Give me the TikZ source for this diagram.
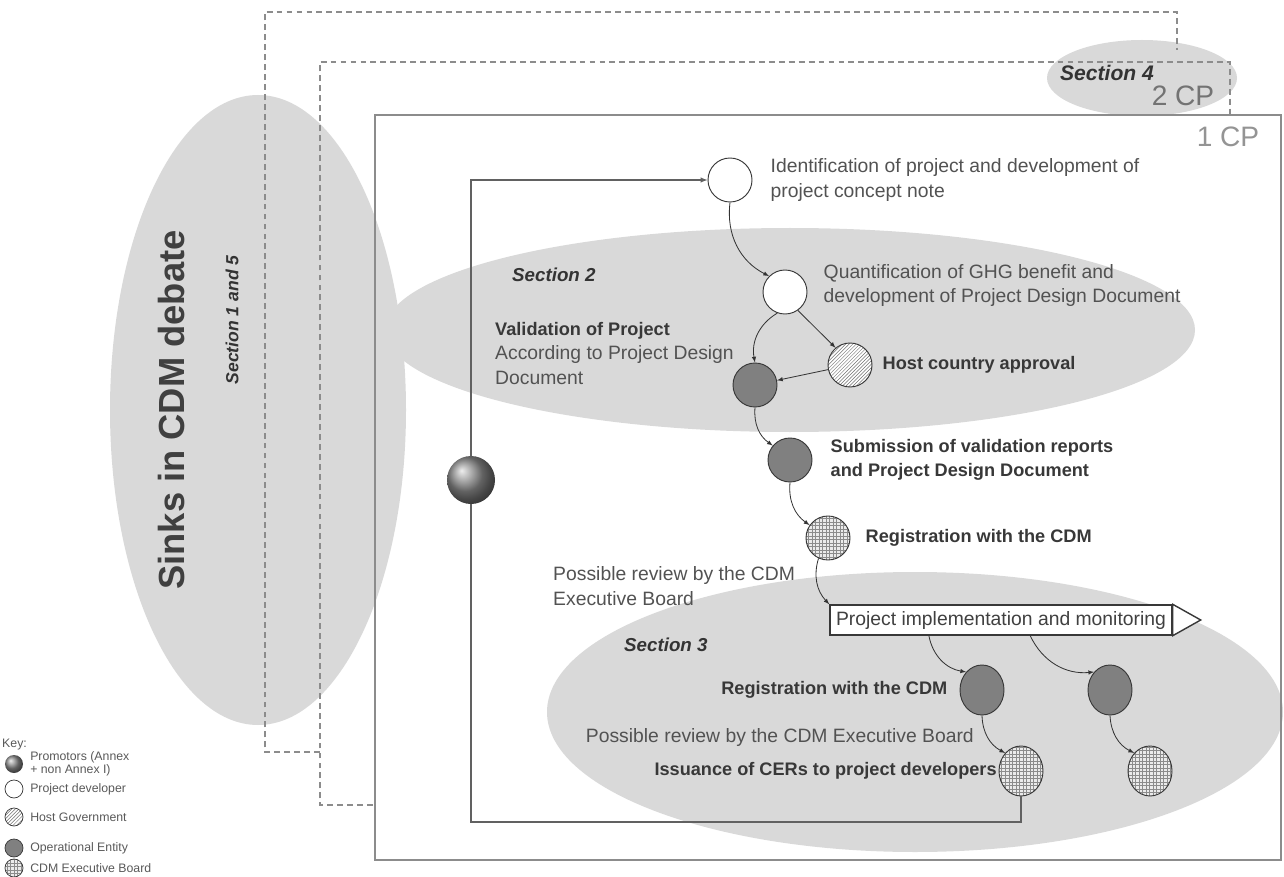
\documentclass[tikz,border=0pt]{standalone}
\usepackage{fontspec}
\setmainfont{Liberation Sans}
\usetikzlibrary{patterns,shapes.geometric,positioning,calc}

\begin{document}
\begin{tikzpicture}[x=0.03cm, y=-0.03cm, node distance=0.4cm]
        \def\colorsec{black!15}
        \def\colorop{black!50}
        \def\colorline{black!78}
        \def\colortext{black!68}
        \tikzset{projdev/.style={circle, draw=\colorline, line width=0.8, fill=white, minimum size=1.32cm}}
        \tikzset{hostgov/.style={circle, draw=\colorline, line width=0.8,
                preaction={fill=white}, pattern=north east lines, pattern color=black!55,
                minimum size=1.32cm}}
        \tikzset{opentity/.style={circle, draw=\colorline, line width=0.8, fill=\colorop, minimum size=1.32cm}}
        \tikzset{cdmboard/.style={circle, draw=\colorline, line width=0.8,
                preaction={fill=black!8}, pattern=grid, pattern color=black!45,
                minimum size=1.32cm}}
        \tikzset{promoter/.style={circle, shading=ball, ball color=black!45, minimum size=1.44cm}}
        \tikzset{tall/.style={ellipse, minimum width=1.32cm, minimum height=1.5cm}}
        \tikzset{keymark/.style={minimum size=0.54cm, line width=0.6}}
        \tikzset{plaintext/.style={inner sep=0pt, align=left, text=\colortext,
                font=\fontsize{16.5}{21}\selectfont}}
        \tikzset{boldtext/.style={plaintext, text=black!78, font=\fontsize{15.5}{21}\selectfont\bfseries}}
        \tikzset{sectiontitle/.style={inner sep=0pt, text=black!80, font=\fontsize{16}{19}\selectfont\bfseries\itshape}}
        \tikzset{cptext/.style={inner sep=0pt, text=black!42, font=\fontsize{24}{26}\selectfont}}
        \tikzset{keytext/.style={inner sep=0pt, anchor=west, align=left, text=black!65,
                font=\fontsize{10.5}{11.5}\selectfont}}
        \tikzset{implbox/.style={draw=\colorline, line width=1.2, fill=white, inner sep=0pt,
                minimum width=10.26cm, minimum height=0.9cm, text=black!75,
                font=\fontsize{16.5}{20}\selectfont}}
        \tikzset{dashedbox/.style={draw=black!45, line width=0.9, dash pattern=on 5pt off 3.5pt}}
        \tikzset{cpbox/.style={draw=black!45, line width=1.3}}
        \tikzset{loopline/.style={draw=black!62, line width=1}}
        \tikzset{connector/.style={-latex, draw=black!80, line width=0.7}}

        \useasboundingbox (0,0) rectangle (1284,877);

        % grey section areas
        \fill[\colorsec] (258,410) ellipse [x radius=148, y radius=315];
        \fill[\colorsec] (1142,78) ellipse [x radius=95, y radius=38];
        \fill[\colorsec] (790,330) ellipse [x radius=405, y radius=102];
        \fill[\colorsec] (915,712) ellipse [x radius=368, y radius=140];

        % commitment periods
        \draw[dashedbox] (320,752) -- (265,752) -- (265,12) -- (1177,12) -- (1177,50);
        \draw[dashedbox] (373,805) -- (320,805) -- (320,62) -- (1230,62) -- (1230,115);
        \draw[cpbox] (375,115) rectangle (1281,860);

        \node[rotate=90, inner sep=0pt, text=black!75, font=\fontsize{31}{34}\selectfont\bfseries] (sinks) at (172,410) {Sinks in CDM debate};
        \node[sectiontitle, rotate=90, font=\fontsize{15}{18}\selectfont\bfseries\itshape] (secone) at (232,320) {Section 1 and 5};
        \node[sectiontitle, font=\fontsize{18}{20}\selectfont\bfseries\itshape] (secfour) at (1107,73) {Section 4};
        \node[cptext, text=black!55] (cptwo) at (1183,96) {2 CP};
        \node[cptext] (cpone) at (1228,137) {1 CP};

        % cycle
        \node[projdev] (ident) at (730,180) {};
        \node[projdev] (quant) at (785,292) {};
        \node[opentity] (valid) at (755,385) {};
        \node[hostgov] (hostok) at (850,365) {};
        \node[opentity] (submit) at (790,460) {};
        \node[cdmboard] (regist) at (828,538) {};
        \node[implbox] (implement) at (1001,620) {Project implementation and monitoring};
        \node[opentity, tall] (regA) at (982,690) {};
        \node[opentity, tall] (regB) at (1110,690) {};
        \node[cdmboard, tall] (issueA) at (1021,771) {};
        \node[cdmboard, tall] (issueB) at (1150,771) {};
        \node[promoter] (promoter) at (471,480) {};
        \coordinate (loopcorner) at (471,822);

        \draw[draw=\colorline, line width=1.2, fill=white] (implement.north east) -- ([xshift=0.84cm]implement.east) -- (implement.south east) -- cycle;

        \draw[loopline] (issueA.south) |- (loopcorner) -- (promoter.south);
        \draw[loopline, -latex] (promoter.north) |- (ident.west);

        \draw[connector] (ident.south) to[bend right=35] (quant.north west);
        \draw[connector] (quant.250) to[bend right=35] (valid.north);
        \draw[connector] (quant.-55) -- (hostok.130);
        \draw[connector] (hostok) -- (valid);
        \draw[connector] (valid.south) to[bend right=30] (submit.140);
        \draw[connector] (submit.south) to[bend right=30] (regist.145);
        \draw[connector] (regist.245) to[bend right=30] (implement.north west);
        \draw[connector] ($(implement.south west)!0.29!(implement.south east)$) to[bend right=35] (regA.north west);
        \draw[connector] ($(implement.south west)!0.585!(implement.south east)$) to[bend right=35] (regB.north west);
        \draw[connector] (regA.south) to[bend right=30] (issueA.north west);
        \draw[connector] (regB.south) to[bend right=30] (issueB.north west);

        % labels
        \node[plaintext, right=0.54cm of ident] (identlabel) {Identification of project and development of\\project concept note};
        \node[plaintext, right=0.48cm of quant, yshift=0.2cm] (quantlabel) {Quantification of GHG benefit and\\development of Project Design Document};
        \node[sectiontitle, anchor=west] (sectwo) at (512,275) {Section 2};
        \node[plaintext, anchor=north west] (validlabel) at (495,322) {{\bfseries\fontsize{15.5}{21}\selectfont\color{black!78}Validation of Project}\\According to Project Design\\Document};
        \node[boldtext, right=0.3cm of hostok] (hostlabel) {Host country approval};
        \node[boldtext, right=0.54cm of submit] (submitlabel) {Submission of validation reports\\and Project Design Document};
        \node[boldtext, right=0.45cm of regist] (registlabel) {Registration with the CDM};
        \node[plaintext, anchor=west] (reviewone) at (553,586) {Possible review by the CDM\\Executive Board};
        \node[sectiontitle, anchor=west] (secthree) at (624,645) {Section 3};
        \node[boldtext, left=0.36cm of regA] (regAlabel) {Registration with the CDM};
        \node[plaintext, anchor=east] (reviewtwo) at (974,737) {Possible review by the CDM Executive Board};
        \node[boldtext, left=0.05cm of issueA] (issuelabel) {Issuance of CERs to project developers};

        % key
        \node[keytext] (keytitle) at (2,745) {Key:};
        \node[promoter, keymark] (keypromoter) at (14,764) {};
        \node[projdev, keymark] (keydev) at (14,789) {};
        \node[hostgov, keymark] (keyhost) at (14,817) {};
        \node[opentity, keymark] (keyop) at (14,848) {};
        \node[cdmboard, keymark] (keyboard) at (14,868) {};
        \node[keytext, right=0.2cm of keypromoter] (keypromoterlabel) {Promotors (Annex\\+ non Annex I)};
        \node[keytext, right=0.2cm of keydev] (keydevlabel) {Project developer};
        \node[keytext, right=0.2cm of keyhost] (keyhostlabel) {Host Government};
        \node[keytext, right=0.2cm of keyop] (keyoplabel) {Operational Entity};
        \node[keytext, right=0.2cm of keyboard] (keyboardlabel) {CDM Executive Board};
\end{tikzpicture}
\end{document}
